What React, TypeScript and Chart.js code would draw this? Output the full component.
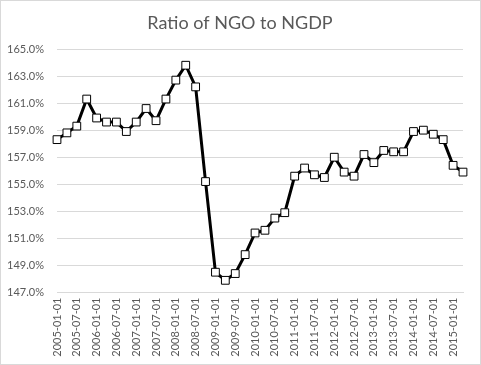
import React, { useEffect, useRef } from "react";
import { Chart, registerables } from "chart.js";

Chart.register(...registerables);

const TITLE = "Ratio of NGO to NGDP";

const dates: string[] = [
  "2005-01-01", "2005-04-01", "2005-07-01", "2005-10-01",
  "2006-01-01", "2006-04-01", "2006-07-01", "2006-10-01",
  "2007-01-01", "2007-04-01", "2007-07-01", "2007-10-01",
  "2008-01-01", "2008-04-01", "2008-07-01", "2008-10-01",
  "2009-01-01", "2009-04-01", "2009-07-01", "2009-10-01",
  "2010-01-01", "2010-04-01", "2010-07-01", "2010-10-01",
  "2011-01-01", "2011-04-01", "2011-07-01", "2011-10-01",
  "2012-01-01", "2012-04-01", "2012-07-01", "2012-10-01",
  "2013-01-01", "2013-04-01", "2013-07-01", "2013-10-01",
  "2014-01-01", "2014-04-01", "2014-07-01", "2014-10-01",
  "2015-01-01", "2015-04-01",
];

const ratio: number[] = [
  158.3, 158.8, 159.3, 161.3,
  159.9, 159.6, 159.6, 158.9,
  159.6, 160.6, 159.7, 161.3,
  162.7, 163.8, 162.2, 155.2,
  148.5, 147.9, 148.4, 149.8,
  151.4, 151.6, 152.5, 152.9,
  155.6, 156.2, 155.7, 155.5,
  157.0, 155.9, 155.6, 157.2,
  156.6, 157.5, 157.4, 157.4,
  158.9, 159.0, 158.7, 158.3,
  156.4, 155.9,
];

const Y_MIN = 147;
const Y_MAX = 165;
const Y_STEP = 2;

const FONT = "Lato, 'Open Sans', sans-serif";
const TEXT_COLOR = "#595959";

export default function App() {
  const ref = useRef<HTMLCanvasElement | null>(null);

  useEffect(() => {
    if (!ref.current) return;
    const frame = {
      id: "frame",
      afterDraw(chart: any) {
        const ctx = chart.ctx;
        ctx.save();
        ctx.strokeStyle = "#d9d9d9";
        ctx.lineWidth = 1;
        ctx.strokeRect(0.5, 0.5, chart.width - 1, chart.height - 1);
        ctx.fillStyle = TEXT_COLOR;
        ctx.font = "18px " + FONT;
        ctx.textAlign = "center";
        ctx.textBaseline = "alphabetic";
        ctx.fillText(TITLE, 240, 29);
        ctx.restore();
      },
    };
    const chart = new Chart(ref.current, {
      type: "line",
      data: {
        labels: dates,
        datasets: [
          {
            data: ratio,
            borderColor: "#000000",
            borderWidth: 3,
            tension: 0,
            pointStyle: "rect",
            pointRadius: 5.5,
            pointBackgroundColor: "#ffffff",
            pointBorderColor: "#000000",
            pointBorderWidth: 1,
          },
        ],
      },
      options: {
        responsive: false,
        animation: false,
        layout: { padding: { left: 0, right: 18, top: 49, bottom: 0 } },
        plugins: {
          legend: { display: false },
          title: { display: false },
          tooltip: { enabled: false },
        },
        scales: {
          x: {
            offset: false,
            grid: { display: false, drawTicks: false },
            border: { display: true, color: "#d9d9d9" },
            ticks: {
              autoSkip: false,
              maxRotation: 90,
              minRotation: 90,
              padding: 5,
              color: TEXT_COLOR,
              font: { family: FONT, size: 11 },
              callback: (_v: any, i: number) => (i % 2 === 0 ? dates[i] : null),
            },
            afterFit: (s: any) => {
              s.height = 72.5;
            },
          },
          y: {
            min: Y_MIN,
            max: Y_MAX,
            grid: { color: "#d9d9d9", drawTicks: false },
            border: { display: false },
            ticks: {
              stepSize: Y_STEP,
              padding: 13,
              color: TEXT_COLOR,
              font: { family: FONT, size: 11 },
              callback: (v: any) => Number(v).toFixed(1) + "%",
            },
            afterFit: (s: any) => {
              s.width = 57;
            },
          },
        },
      },
      plugins: [frame],
    });
    return () => chart.destroy();
  }, []);

  return (
    <div style={{ position: "absolute", left: 0, top: 0, width: 481, height: 365 }}>
      <canvas ref={ref} width={481} height={365} style={{ display: "block", width: 481, height: 365 }} />
    </div>
  );
}
